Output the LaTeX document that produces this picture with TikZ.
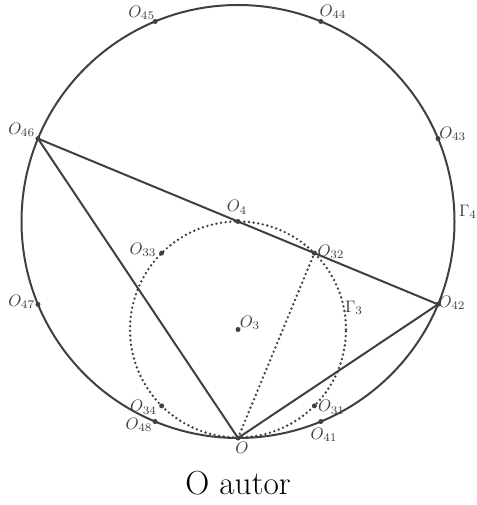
\documentclass[tikz,border=0pt]{standalone}
\usepackage{tikz}
\usetikzlibrary{calc}
\definecolor{ink}{HTML}{404040}
\begin{document}
\begin{tikzpicture}[x=0.6pt,y=0.6pt,
  solidline/.style={draw=ink,line width=1.2pt},
  dotline/.style={draw=ink,line width=1.6pt,line cap=round,dash pattern=on 0pt off 2.8pt},
  pt/.style={circle,fill=ink,inner sep=0pt,minimum size=3pt},
  lbl/.style={inner sep=0pt,text=ink}]
\useasboundingbox (0,0) rectangle (476,505);
% centres
\coordinate (C) at (238,283.5);
\coordinate (Cs) at (238,175.5);
% big circle and small dotted circle
\draw[solidline] (C) circle[radius=216.5];
\draw[dotline] (Cs) circle[radius=108];
% points on big circle
\node[pt] (O43) at ($(C)+(22.5:216.5)$) {};
\node[pt] (O44) at ($(C)+(67.5:216.5)$) {};
\node[pt] (O45) at ($(C)+(112.5:216.5)$) {};
\node[pt] (O46) at ($(C)+(157.5:216.5)$) {};
\node[pt] (O47) at ($(C)+(202.5:216.5)$) {};
\node[pt] (O48) at ($(C)+(247.5:216.5)$) {};
\node[pt] (O)   at ($(C)+(270:216.5)$) {};
\node[pt] (O41) at ($(C)+(292.5:216.5)$) {};
\node[pt] (O42) at ($(C)+(337.5:216.5)$) {};
% points on small circle
\node[pt] (O4)  at (C) {};
\node[pt] (O3)  at (Cs) {};
\node[pt] (O32) at ($(Cs)+(45:108)$) {};
\node[pt] (O33) at ($(Cs)+(135:108)$) {};
\node[pt] (O34) at ($(Cs)+(225:108)$) {};
\node[pt] (O31) at ($(Cs)+(315:108)$) {};
% segments
\draw[solidline] (O46.center) -- (O42.center);
\draw[solidline] (O.center) -- (O46.center);
\draw[solidline] (O.center) -- (O42.center);
\draw[dotline] (O.center) -- (O32.center);
% labels
\node[lbl] (l45) at (141.7,492) {$O_{45}$};
\node[lbl] (l44) at (333,493.3) {$O_{44}$};
\node[lbl] (l43) at (452.7,371) {$O_{43}$};
\node[lbl] (l46) at (21.7,375) {$O_{46}$};
\node[lbl] (l47) at (21.7,203) {$O_{47}$};
\node[lbl] (l33) at (143,255) {$O_{33}$};
\node[lbl] (l4)  at (237,297.5) {$O_{4}$};
\node[lbl] (l32) at (331,253) {$O_{32}$};
\node[lbl] (l42) at (452,202) {$O_{42}$};
\node[lbl] (l3)  at (250,182) {$O_{3}$};
\node[lbl] (g3)  at (354,197) {$\Gamma_{3}$};
\node[lbl] (g4)  at (468,293) {$\Gamma_{4}$};
\node[lbl] (l34) at (143.5,97.5) {$O_{34}$};
\node[lbl] (l48) at (139,80) {$O_{48}$};
\node[lbl] (l31) at (331.5,97.5) {$O_{31}$};
\node[lbl] (l41) at (324,70) {$O_{41}$};
\node[lbl] (lO)  at (242,57) {$O$};
\node[inner sep=0pt] (cap) at (238,22) {\fontsize{20}{24}\selectfont O autor};
\end{tikzpicture}
\end{document}
